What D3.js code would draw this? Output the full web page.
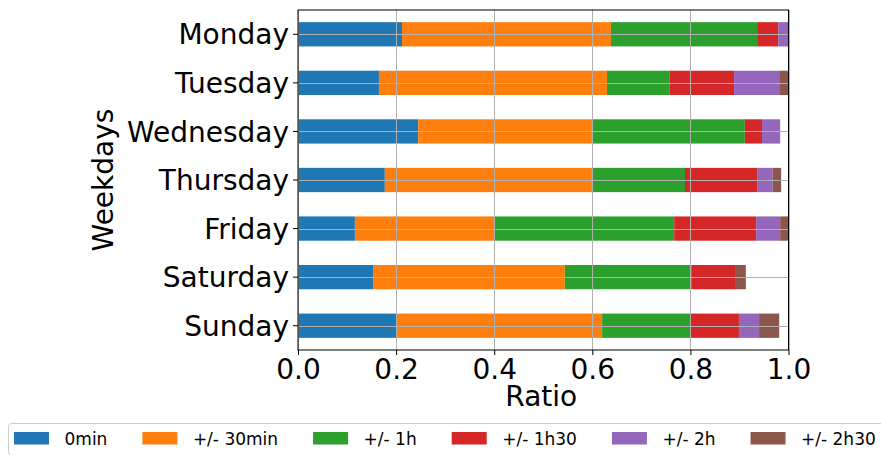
<!DOCTYPE html>
<html>
<head>
<meta charset="utf-8">
<script src="https://cdn.jsdelivr.net/npm/d3@7"></script>
<style>
  html, body { margin: 0; padding: 0; background: #fff; }
  svg { display: block; font-family: "DejaVu Sans", sans-serif; }
</style>
</head>
<body>
<svg id="chart" width="881" height="455"></svg>
<script>
const days = ["Monday", "Tuesday", "Wednesday", "Thursday", "Friday", "Saturday", "Sunday"];
const seriesNames = ["0min", "+/- 30min", "+/- 1h", "+/- 1h30", "+/- 2h", "+/- 2h30"];
const colors = ["#1f77b4", "#ff7f0e", "#2ca02c", "#d62728", "#9467bd", "#8c564b"];
const v0min  = [0.212, 0.165, 0.245, 0.177, 0.116, 0.153, 0.200];
const v30min = [0.426, 0.465, 0.354, 0.422, 0.284, 0.391, 0.420];
const v1h    = [0.298, 0.128, 0.312, 0.190, 0.367, 0.259, 0.180];
const v1h30  = [0.043, 0.131, 0.035, 0.147, 0.167, 0.088, 0.099];
const v2h    = [0.021, 0.092, 0.037, 0.032, 0.049, 0.000, 0.041];
const v2h30  = [0.000, 0.019, 0.000, 0.017, 0.017, 0.022, 0.041];
const xTicks = [0.0, 0.2, 0.4, 0.6, 0.8, 1.0];
const xLabel = "Ratio";
const yLabel = "Weekdays";

const seriesValues = [v0min, v30min, v1h, v1h30, v2h, v2h30];
const table = days.map((d, i) => {
  const row = { day: d };
  seriesNames.forEach((s, j) => row[s] = seriesValues[j][i]);
  return row;
});

const svg = d3.select("#chart");
const plot = { left: 298, right: 788.5, top: 10, bottom: 350 };

const x = d3.scaleLinear().domain([0, 1]).range([plot.left, plot.right]);
const y = d3.scaleBand().domain(days).range([plot.top, plot.bottom]).paddingInner(0.5).paddingOuter(0.25);

const stack = d3.stack().keys(seriesNames);
const stacked = stack(table);

// bars
const g = svg.append("g");
g.selectAll("g.series").data(stacked).join("g")
  .attr("class", "series")
  .attr("fill", (d, i) => colors[i])
  .selectAll("rect").data(d => d).join("rect")
  .attr("x", d => x(d[0]))
  .attr("y", d => y(d.data.day))
  .attr("width", d => Math.max(0, x(d[1]) - x(d[0])))
  .attr("height", y.bandwidth());

// grid (drawn above bars)
const grid = svg.append("g").attr("stroke", "#b0b0b0").attr("stroke-width", 1);
grid.selectAll("line.vx").data(xTicks).join("line")
  .attr("x1", d => Math.round(x(d)) + 0.5).attr("x2", d => Math.round(x(d)) + 0.5)
  .attr("y1", plot.top).attr("y2", plot.bottom);
grid.selectAll("line.hy").data(days).join("line")
  .attr("y1", d => Math.round(y(d) + y.bandwidth() / 2) + 0.5)
  .attr("y2", d => Math.round(y(d) + y.bandwidth() / 2) + 0.5)
  .attr("x1", plot.left).attr("x2", plot.right);

// axes
const xAxis = d3.axisBottom(x).tickValues(xTicks).tickFormat(d3.format(".1f")).tickSize(5).tickPadding(4);
const yAxis = d3.axisLeft(y).tickSize(5).tickPadding(4);

const gx = svg.append("g").attr("transform", `translate(0,${plot.bottom})`).call(xAxis);
gx.select(".domain").remove();
gx.selectAll("text").attr("font-size", 28).attr("font-family", "DejaVu Sans").attr("fill", "#000").attr("dy", "0.71em");
gx.selectAll("line").attr("stroke", "#000");

const gy = svg.append("g").attr("transform", `translate(${plot.left},0)`).call(yAxis);
gy.select(".domain").remove();
gy.selectAll("text").attr("font-size", 28).attr("font-family", "DejaVu Sans").attr("fill", "#000").attr("dy", "0.36em");
gy.selectAll("line").attr("stroke", "#000");

// frame
svg.append("rect")
  .attr("x", plot.left).attr("y", plot.top)
  .attr("width", plot.right - plot.left).attr("height", plot.bottom - plot.top)
  .attr("fill", "none").attr("stroke", "#000").attr("stroke-width", 1);

// axis labels
svg.append("text").attr("x", (plot.left + plot.right) / 2 - 2).attr("y", 406)
  .attr("text-anchor", "middle").attr("font-size", 28).text(xLabel);
svg.append("text").attr("transform", `translate(113,${(plot.top + plot.bottom) / 2}) rotate(-90)`)
  .attr("text-anchor", "middle").attr("font-size", 28).text(yLabel);

// legend
const legend = svg.append("g");
const legendBox = legend.append("rect")
  .attr("x", 8.5).attr("y", 423.5).attr("rx", 3).attr("ry", 3)
  .attr("height", 32).attr("fill", "#fff").attr("stroke", "#cccccc").attr("stroke-width", 1);
let lx = 14;
seriesNames.forEach((s, i) => {
  legend.append("rect").attr("x", lx).attr("y", 432).attr("width", 35).attr("height", 12.5).attr("fill", colors[i]);
  const t = legend.append("text").attr("x", lx + 35 + 15.5).attr("y", 445)
    .attr("font-size", 17).attr("fill", "#000").text(s);
  const w = t.node().getComputedTextLength();
  lx = lx + 35 + 15.5 + w + 35;
});
legendBox.attr("width", lx - 35 + 8 - 8.5);
</script>
</body>
</html>
